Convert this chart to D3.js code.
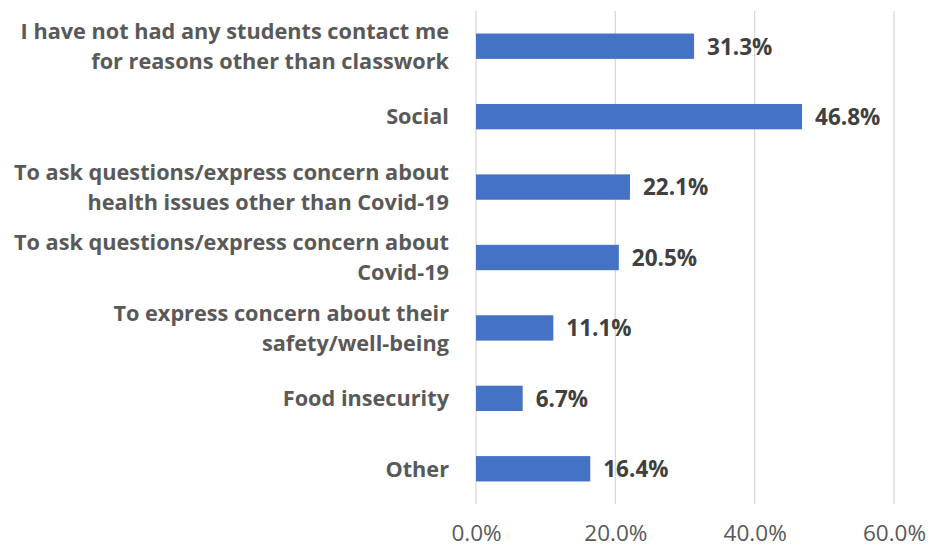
<!DOCTYPE html>
<html><head><meta charset="utf-8">
<script src="https://cdn.jsdelivr.net/npm/d3@7"></script>
<style>body{margin:0;background:#fff}svg{display:block}</style>
</head><body>
<script>
const categories = [
  ["I have not had any students contact me", "for reasons other than classwork"],
  ["Social"],
  ["To ask questions/express concern about", "health issues other than Covid-19"],
  ["To ask questions/express concern about", "Covid-19"],
  ["To express concern about their", "safety/well-being"],
  ["Food insecurity"],
  ["Other"]
];
const values = [31.3, 46.8, 22.1, 20.5, 11.1, 6.7, 16.4];
const ticks = [0, 20, 40, 60];

const W = 928, H = 549;
const svg = d3.select("body").append("svg").attr("width", W).attr("height", H);
const font = "'Open Sans', sans-serif";

const x = d3.scaleLinear().domain([0, 60]).range([476, 894]);
const y = d3.scaleBand().domain(d3.range(categories.length)).range([11, 504]).paddingInner(0.64).paddingOuter(0.32);

// gridlines
svg.append("g").selectAll("line").data(ticks).join("line")
  .attr("x1", d => x(d)).attr("x2", d => x(d))
  .attr("y1", 11).attr("y2", 504)
  .attr("stroke", "#d9d9d9").attr("stroke-width", 1.3);

// x tick labels via axis
const xAxis = d3.axisBottom(x).tickValues(ticks).tickFormat(d => d.toFixed(1) + "%").tickSize(0);
const ga = svg.append("g").attr("transform", "translate(0,533)").call(xAxis);
ga.select(".domain").remove();
ga.selectAll("text").attr("font-family", font).attr("font-size", 22.5).attr("fill", "#595959")
  .attr("y", 0).attr("dy", "0.36em");

// bars
svg.append("g").selectAll("rect").data(values).join("rect")
  .attr("x", x(0)).attr("y", (d, i) => y(i))
  .attr("width", d => x(d) - x(0)).attr("height", y.bandwidth())
  .attr("fill", "#4472C4");

// value labels
svg.append("g").selectAll("text").data(values).join("text")
  .attr("x", d => x(d) + 13).attr("y", (d, i) => y(i) + y.bandwidth() / 2)
  .attr("dy", "0.37em")
  .attr("font-family", font).attr("font-weight", "bold").attr("font-size", 22.5)
  .attr("fill", "#404040")
  .text(d => d.toFixed(1) + "%");

// category labels
const lh = 30;
const cg = svg.append("g");
categories.forEach((lines, i) => {
  const cy = y(i) + y.bandwidth() / 2;
  const t = cg.append("text").attr("text-anchor", "end")
    .attr("font-family", font).attr("font-weight", "bold").attr("font-size", 21.7)
    .attr("fill", "#595959");
  lines.forEach((l, j) => {
    t.append("tspan").attr("x", 449)
      .attr("y", cy + (j - (lines.length - 1) / 2) * lh)
      .attr("dy", "0.36em").text(l);
  });
});
</script>
</body></html>
